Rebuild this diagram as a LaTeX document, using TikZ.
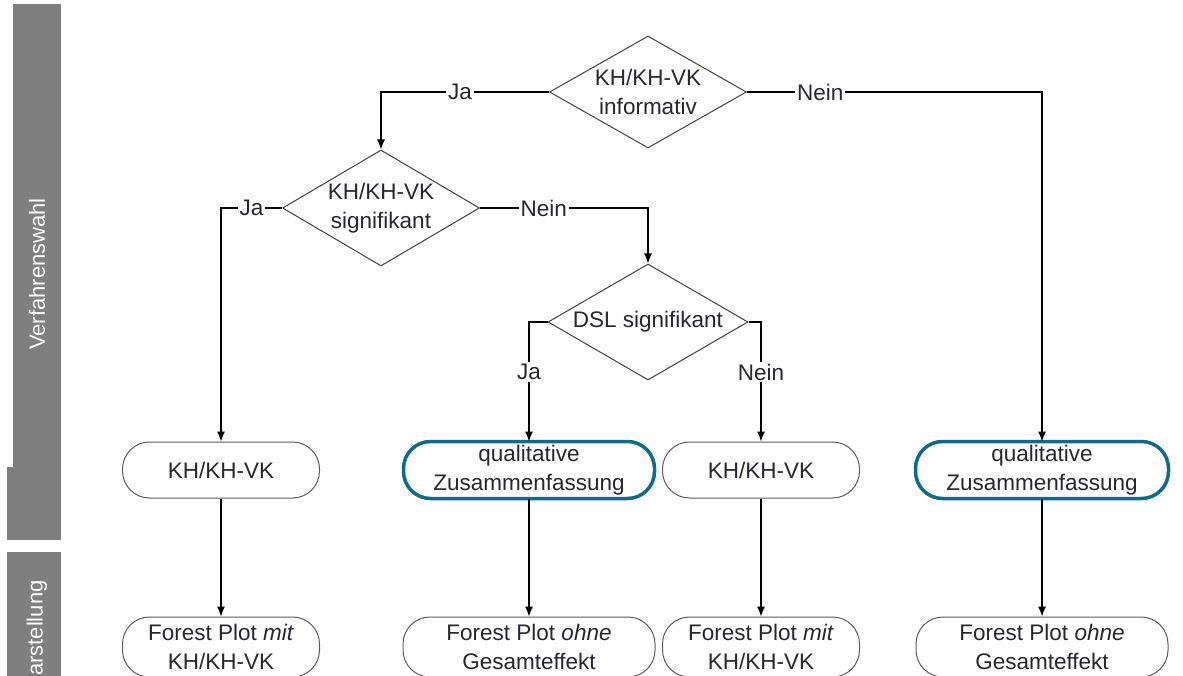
\documentclass[tikz,border=0pt]{standalone}
\usepackage{fontspec}
\setmainfont{Liberation Sans}
\usetikzlibrary{shapes.geometric,arrows.meta}
\definecolor{barg}{HTML}{7F7F7F}
\definecolor{hlteal}{HTML}{0F6B88}
\definecolor{txt}{HTML}{262630}
\definecolor{dgray}{HTML}{404040}
\definecolor{bgray}{HTML}{5A5A5A}
\begin{document}
\begin{tikzpicture}[x=1pt,y=-1pt,
  font=\fontsize{22.5}{28.5}\selectfont, text=txt,
  dec/.style={diamond, draw=dgray, line width=1pt, aspect=1.7, inner sep=0pt, align=center},
  term/.style={draw=bgray, line width=1pt, rounded corners=27pt, inner sep=0pt, align=center},
  conn/.style={draw=black, line width=1.2pt, -{Latex[length=10pt,width=8pt]}},
  lab/.style={fill=white, inner sep=2pt},
  hl/.style={draw=hlteal, line width=3.5pt, rounded corners=27pt},
  side/.style={rotate=90, text=white, inner sep=0pt, font=\fontsize{22}{26}\selectfont}]
\useasboundingbox (0,0) rectangle (1183,676);
\clip (0,0) rectangle (1183,676);
% side bars
\fill[barg] (13,4) rectangle (61,467);
\fill[barg] (7,467) rectangle (61,540);
\fill[barg] (7,552) rectangle (61,700);
\node[side] (sv) at (37,274) {Verfahrenswahl};
\node[side, anchor=west] (sd) at (37,676) {arstellung};
% decisions
\node[dec, minimum width=197pt, minimum height=112pt] (d1) at (648,92) {KH/KH-VK\\informativ};
\node[dec, minimum width=197pt, minimum height=116pt] (d2) at (381,208) {KH/KH-VK\\signifikant};
\node[dec, minimum width=200pt, minimum height=116pt] (d3) at (648,322) {DSL signifikant};
% first row boxes
\node[term, minimum width=197pt, minimum height=56pt] (b1) at (221,470) {KH/KH-VK};
\node[term, minimum width=250pt, minimum height=56pt] (b2) at (529,470) {qualitative\\Zusammenfassung};
\node[term, minimum width=197pt, minimum height=56pt] (b3) at (761,470) {KH/KH-VK};
\node[term, minimum width=252pt, minimum height=56pt] (b4) at (1042,470) {qualitative\\Zusammenfassung};
\draw[hl] (b2.north west) rectangle (b2.south east);
\draw[hl] (b4.north west) rectangle (b4.south east);
% second row boxes
\node[term, minimum width=197pt, minimum height=60pt] (f1) at (221,647) {Forest Plot \textit{mit}\\KH/KH-VK};
\node[term, minimum width=252pt, minimum height=60pt] (f2) at (529,647) {Forest Plot \textit{ohne}\\Gesamteffekt};
\node[term, minimum width=197pt, minimum height=60pt] (f3) at (761,647) {Forest Plot \textit{mit}\\KH/KH-VK};
\node[term, minimum width=252pt, minimum height=60pt] (f4) at (1042,647) {Forest Plot \textit{ohne}\\Gesamteffekt};
% connectors
\draw[conn] (d1.west) -| node[lab, pos=0.265] {Ja} (d2.north);
\draw[conn] (d1.east) -| node[lab, pos=0.124] {Nein} (b4.north);
\draw[conn] (d2.west) -| node[lab, pos=0.25] {Ja} (b1.north);
\draw[conn] (d2.east) -| node[lab, pos=0.19] {Nein} (d3.north);
\draw[conn] (d3.west) -| node[lab, pos=0.71] {Ja} (b2.north);
\draw[conn] (d3.east) -| node[lab, pos=0.71] {Nein} (b3.north);
\draw[conn] (b1) -- (f1);
\draw[conn] (b2) -- (f2);
\draw[conn] (b3) -- (f3);
\draw[conn] (b4) -- (f4);
\end{tikzpicture}
\end{document}
